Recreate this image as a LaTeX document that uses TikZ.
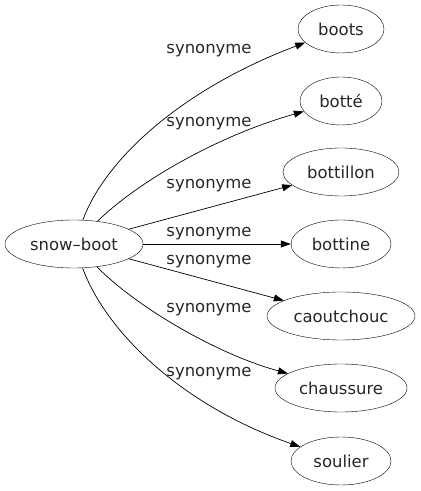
\documentclass[tikz,border=0pt]{standalone}
\usepackage{fontspec}
\setmainfont{DejaVu Sans}
\usetikzlibrary{shapes.geometric,arrows.meta}
\begin{document}
\begin{tikzpicture}[x=1bp,y=1bp,
  word/.style={draw,ellipse,minimum height=48bp,inner sep=0pt,font=\fontsize{16.5}{19}\selectfont,text=black!85},
  rel/.style={font=\fontsize{16.5}{19}\selectfont,text=black!85},
  link/.style={draw,-{Triangle[length=10bp,width=7bp]},line width=0.7bp}]
\useasboundingbox (0,0) rectangle (420,491);
\node[word,minimum width=138bp] (snow) at (74,247) {snow–boot};
\node[word,minimum width=86bp] (boots) at (341,462) {boots};
\node[word,minimum width=82bp] (botte) at (341,390) {botté};
\node[word,minimum width=116bp] (bottillon) at (341,319) {bottillon};
\node[word,minimum width=100bp] (bottine) at (341,247) {bottine};
\node[word,minimum width=148bp] (caoutchouc) at (341,175) {caoutchouc};
\node[word,minimum width=132bp] (chaussure) at (341,103) {chaussure};
\node[word,minimum width=100bp] (soulier) at (341,30) {soulier};
\path[link] (snow) .. controls (105,331) and (180,401) .. (boots);
\path[link] (snow) .. controls (140,311) and (220,356) .. (botte);
\path[link] (snow) -- (bottillon);
\path[link] (snow) -- (bottine);
\path[link] (snow) -- (caoutchouc);
\path[link] (snow) .. controls (140,181) and (220,136) .. (chaussure);
\path[link] (snow) .. controls (105,161) and (180,86) .. (soulier);
\node[rel] (l1) at (209,440) {synonyme};
\node[rel] (l2) at (209,367) {synonyme};
\node[rel] (l3) at (209,305) {synonyme};
\node[rel] (l4) at (209,257) {synonyme};
\node[rel] (l5) at (209,229) {synonyme};
\node[rel] (l6) at (209,181) {synonyme};
\node[rel] (l7) at (209,117) {synonyme};
\end{tikzpicture}
\end{document}
